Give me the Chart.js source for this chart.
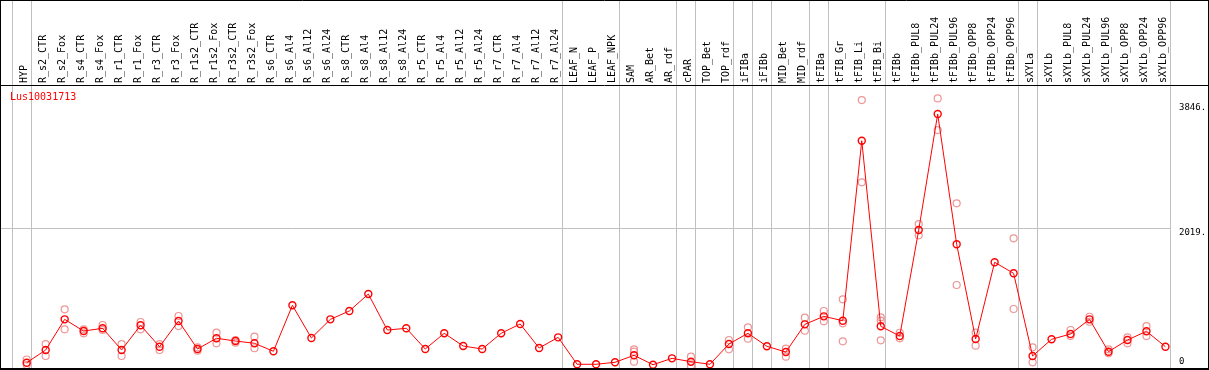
<!DOCTYPE html>
<html>
<head>
<meta charset="utf-8">
<script src="https://cdn.jsdelivr.net/npm/chart.js@4/dist/chart.umd.min.js"></script>
<style>
body { margin: 0; background: #fff; }
</style>
</head>
<body>
<canvas id="myChart" width="1209" height="370"></canvas>
<script>
var geneName = "Lus10031713";

var sampleNames = [
    "HYP", "R_s2_CTR", "R_s2_Fox", "R_s4_CTR", "R_s4_Fox", "R_r1_CTR", "R_r1_Fox",
    "R_r3_CTR", "R_r3_Fox", "R_r1s2_CTR", "R_r1s2_Fox", "R_r3s2_CTR", "R_r3s2_Fox",
    "R_s6_CTR", "R_s6_Al4", "R_s6_Al12", "R_s6_Al24", "R_s8_CTR", "R_s8_Al4",
    "R_s8_Al12", "R_s8_Al24", "R_r5_CTR", "R_r5_Al4", "R_r5_Al12", "R_r5_Al24",
    "R_r7_CTR", "R_r7_Al4", "R_r7_Al12", "R_r7_Al24", "LEAF_N", "LEAF_P", "LEAF_NPK",
    "SAM", "AR_Bet", "AR_rdf", "cPAR", "TOP_Bet", "TOP_rdf", "iFIBa", "iFIBb",
    "MID_Bet", "MID_rdf", "tFIBa", "tFIB_Gr", "tFIB_Li", "tFIB_Bi", "tFIBb",
    "tFIBb_PUL8", "tFIBb_PUL24", "tFIBb_PUL96", "tFIBb_OPP8", "tFIBb_OPP24",
    "tFIBb_OPP96", "sXYLa", "sXYLb", "sXYLb_PUL8", "sXYLb_PUL24", "sXYLb_PUL96",
    "sXYLb_OPP8", "sXYLb_OPP24", "sXYLb_OPP96"
];

var meanValues = [
    54, 240, 688, 517, 557, 240, 601, 288, 664, 254, 411, 371, 338,
    221, 893, 415, 688, 810, 1058, 532, 557, 254, 484, 298, 254, 484, 620, 269, 425,
    31, 31, 60, 162, 25, 118, 69, 31, 327, 484, 294, 210, 615, 732, 668, 3299, 586,
    444, 1994, 3689, 1785, 400, 1522, 1361, 152, 396, 474, 688, 215, 386, 513, 288
];

// replicate values, null where no replicate is shown
var repA = [
    101, 327, 835, 542, 605, 327, 649, 327, 737, 279, 493, 386, 434,
    null, null, null, null, null, null, null, null, null, null, null, null, null, null, null, null,
    null, null, null, 250, null, null, 142, null, 386, 571, null, 259, 712, 810, 981, 3894, 718,
    492, 2081, 3918, 2384, 493, null, 1872, 279, null, 532, 726, 250, 425, 590, null
];
var repB = [
    20, 152, 542, 484, 532, 152, 542, 240, 590, 229, 338, 346, 265,
    null, null, null, null, null, null, null, null, null, null, null, null, null, null, null, null,
    null, null, null, 215, null, null, 6, null, 250, 405, null, 142, 522, 659, 630, 2691, 668,
    411, 1916, 3455, 1190, 303, null, 839, 60, null, 444, 653, 191, 338, 444, null
];
var repC = [
    null, null, null, null, null, null, null, null, null, null, null, null, null,
    null, null, null, null, null, null, null, null, null, null, null, null, null, null, null, null,
    null, null, null, 69, null, null, null, null, null, null, null, null, null, null, 367, null, 381,
    null, null, null, null, null, null, null, null, null, null, null, null, null, null, null
];

// index of the last sample in each group (-1 = left edge)
var groupEnds = [-1, 0, 28, 31, 34, 35, 37, 38, 39, 41, 42, 45, 52, 53, 60];

var yTicks = [0, 2019, 3846];
var yTickLabels = ["0", "2019.", "3846."];

function toPoints(values) {
    var out = [];
    values.forEach(function (v, i) {
        if (v !== null) {
            out.push({ x: i, y: v });
        }
    });
    return out;
}

function repDataset(values) {
    return {
        data: toPoints(values),
        showLine: false,
        clip: false,
        pointRadius: 3.5,
        pointBorderWidth: 1.2,
        pointBorderColor: "rgb(238,150,150)",
        pointBackgroundColor: "rgba(0,0,0,0)"
    };
}

var decorations = {
    id: "decorations",
    beforeDatasetsDraw: function (chart) {
        var ctx = chart.ctx;
        var xScale = chart.scales.x;
        ctx.save();
        ctx.strokeStyle = "#c0c0c0";
        ctx.lineWidth = 1;
        groupEnds.forEach(function (i) {
            var px = Math.round(xScale.getPixelForValue(i + 0.22)) + 0.5;
            ctx.beginPath();
            ctx.moveTo(px, 0);
            ctx.lineTo(px, chart.chartArea.bottom);
            ctx.stroke();
        });
        ctx.restore();
    },
    afterDraw: function (chart) {
        var ctx = chart.ctx;
        ctx.save();
        ctx.strokeStyle = "#000";
        ctx.lineWidth = 1;
        ctx.beginPath();
        ctx.moveTo(0, 0.5); ctx.lineTo(1209, 0.5);
        ctx.moveTo(0.5, 0); ctx.lineTo(0.5, 370);
        ctx.moveTo(1208.5, 0); ctx.lineTo(1208.5, 370);
        ctx.moveTo(0, chart.chartArea.top + 0.5); ctx.lineTo(1209, chart.chartArea.top + 0.5);
        ctx.stroke();
        ctx.lineWidth = 2;
        ctx.beginPath();
        ctx.moveTo(0, 369); ctx.lineTo(1209, 369);
        ctx.stroke();
        ctx.fillStyle = "#ff0000";
        ctx.font = "10px 'DejaVu Sans Mono'";
        ctx.textBaseline = "top";
        ctx.fillText(geneName, 10, 92);
        ctx.restore();
    }
};

var config = {
    type: "line",
    data: {
        datasets: [
            {
                data: toPoints(meanValues),
                clip: false,
                borderColor: "#ff0000",
                borderWidth: 1,
                tension: 0,
                pointRadius: 3.5,
                pointBorderWidth: 1.4,
                pointBorderColor: "#ff0000",
                pointBackgroundColor: "rgba(0,0,0,0)"
            },
            repDataset(repA),
            repDataset(repB),
            repDataset(repC)
        ]
    },
    options: {
        responsive: false,
        animation: false,
        devicePixelRatio: 1,
        layout: { autoPadding: false, padding: { left: 0, right: 0, top: 0, bottom: 2 } },
        plugins: {
            legend: { display: false },
            tooltip: { enabled: false }
        },
        scales: {
            x: {
                type: "linear",
                position: "top",
                min: -1.407,
                max: 60.24,
                afterBuildTicks: function (scale) {
                    scale.ticks = sampleNames.map(function (n, i) {
                        return { value: i };
                    });
                },
                afterFit: function (scale) {
                    scale.height = 85;
                    scale.paddingLeft = 0;
                    scale.paddingRight = 0;
                },
                grid: { display: false, drawTicks: false },
                border: { display: false },
                ticks: {
                    autoSkip: false,
                    minRotation: 90,
                    maxRotation: 90,
                    padding: 2,
                    labelOffset: 9.5,
                    color: "#000",
                    font: { family: "DejaVu Sans Mono", size: 10 },
                    callback: function (value) {
                        return sampleNames[value];
                    }
                }
            },
            y: {
                type: "linear",
                position: "right",
                min: -23.4,
                max: 4114,
                afterBuildTicks: function (scale) {
                    scale.ticks = yTicks.map(function (v) {
                        return { value: v };
                    });
                },
                afterFit: function (scale) {
                    scale.width = 39;
                    scale.paddingTop = 0;
                    scale.paddingBottom = 0;
                },
                grid: {
                    drawTicks: false,
                    color: function (c) {
                        return c.tick && c.tick.value === 2019 ? "#c0c0c0" : "rgba(0,0,0,0)";
                    }
                },
                border: { display: false },
                ticks: {
                    padding: 9,
                    color: "#000",
                    font: { family: "DejaVu Sans Mono", size: 9, lineHeight: 1.0 },
                    callback: function (value, index) {
                        if (index === 0) {
                            return [yTickLabels[index], ""];
                        }
                        return ["", yTickLabels[index]];
                    }
                }
            }
        }
    },
    plugins: [decorations]
};

var myChart = new Chart(document.getElementById("myChart").getContext("2d"), config);
</script>
</body>
</html>
